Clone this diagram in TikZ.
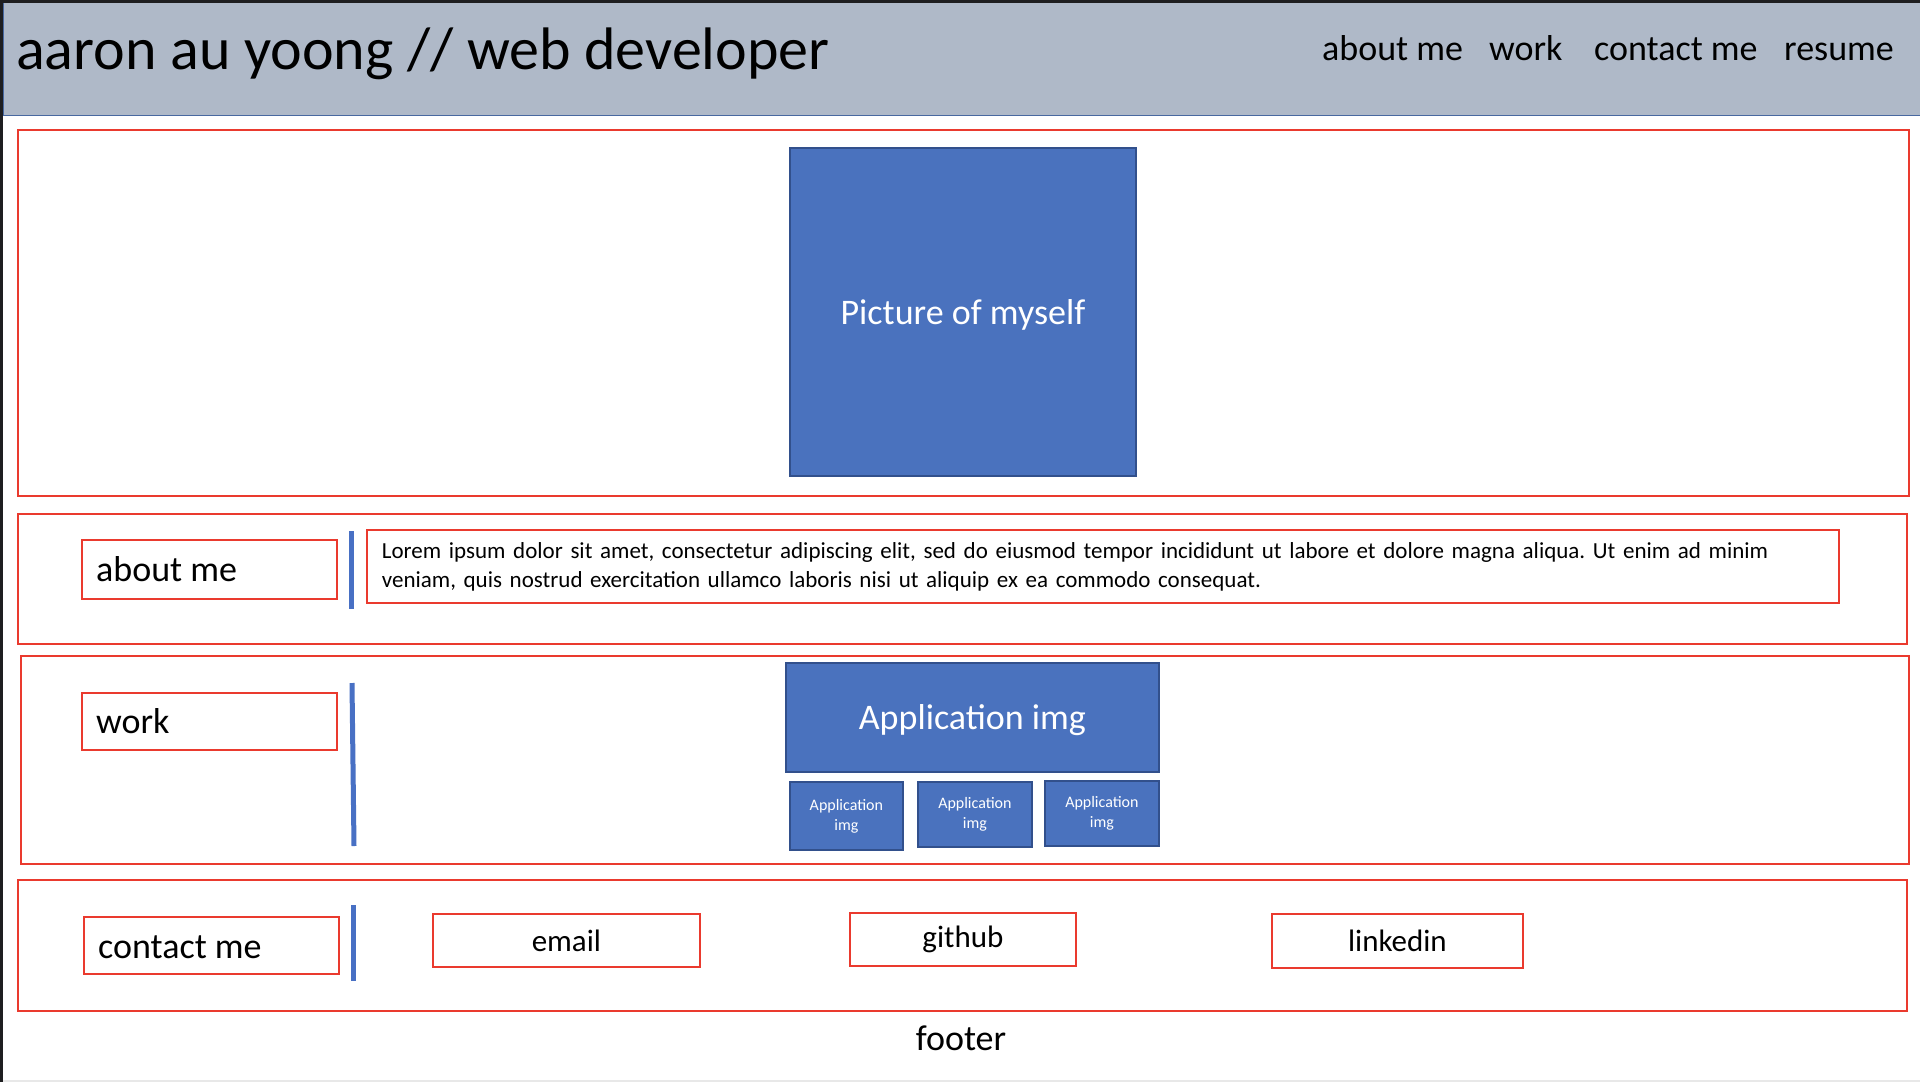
\documentclass[tikz,border=0pt]{standalone}
\usepackage{fontspec}
\setmainfont{Carlito}
\frenchspacing
\definecolor{headfill}{RGB}{175,185,200}
\definecolor{headline}{RGB}{72,104,160}
\definecolor{frame}{RGB}{30,30,32}
\definecolor{redc}{RGB}{234,58,46}
\definecolor{bluec}{RGB}{74,114,190}
\definecolor{bluedark}{RGB}{50,80,140}
\definecolor{barblue}{RGB}{72,112,196}
\definecolor{edgegray}{RGB}{232,232,232}
\newcommand{\fsz}[1]{\fontsize{#1}{1.2\dimexpr #1pt\relax}\selectfont}
\tikzset{
  redbox/.style={draw=redc, line width=1.8pt, inner sep=0pt, anchor=north west},
  section/.style={redbox},
  labelbox/.style={redbox, minimum width=255pt},
  labeltext/.style={anchor=west, inner sep=0pt, font=\fsz{36}},
  linkbox/.style={redbox, align=center, font=\fsz{31}},
  imgbox/.style={draw=bluedark, fill=bluec, line width=1.8pt, inner sep=0pt,
    anchor=north west, text=white, align=center},
  navitem/.style={anchor=base west, inner sep=0pt, font=\fsz{36}},
  divider/.style={draw=barblue, line width=5pt},
}
\begin{document}
\begin{tikzpicture}[x=1pt, y=-1pt]
\useasboundingbox (0,0) rectangle (1920,1082);
\fill[white] (0,0) rectangle (1920,1082);

% page frame
\fill[frame] (0,0) rectangle (1920,3);
\fill[frame] (0,0) rectangle (3,1082);
\fill[edgegray] (3,1080) rectangle (1920,1082);

% header bar
\fill[headfill] (3,3) rectangle (1920,116);
\draw[headline, line width=1.5pt] (3,115.5) -- (1920,115.5);
\draw[headline, line width=1pt] (3.5,3) -- (3.5,116);
\node[anchor=base west, inner sep=0pt, font=\fsz{60}] (title) at (16,69)
  {aaron au yoong // web developer};
\node[navitem] (navabout) at (1322,60) {about me};
\node[navitem] (navwork) at (1489,60) {work};
\node[navitem] (navcontact) at (1594,60) {contact me};
\node[navitem] (navresume) at (1784,60) {resume};

% hero section
\node[section, minimum width=1891pt, minimum height=366pt] (hero) at (17,129) {};
\node[imgbox, minimum width=346pt, minimum height=328pt, font=\fsz{36}] (picture)
  at (789,147) {};
\node[text=white, font=\fsz{36}, inner sep=0pt] (picturetext)
  at ([yshift=-3pt]picture.center) {Picture of myself};

% about section
\node[section, minimum width=1889pt, minimum height=130pt] (about) at (17,513) {};
\node[labelbox, minimum height=59pt] (aboutlabel) at (81,539) {};
\node[labeltext] (abouttext) at ([xshift=15pt]aboutlabel.west) {about me};
\coordinate (abtop) at (351,531);
\coordinate (abbot) at (351,609);
\draw[divider] (abtop) -- (abbot);
\node[redbox, minimum width=1472pt, minimum height=73pt, inner xsep=15pt,
  text width=1442pt, align=left, font=\fontsize{23}{29}\selectfont] (lorem) at (366,529)
  {Lorem ipsum dolor sit amet, consectetur adipiscing elit, sed do eiusmod tempor incididunt ut labore et dolore magna aliqua. Ut enim ad minim\\
   veniam, quis nostrud exercitation ullamco laboris nisi ut aliquip ex ea commodo consequat.};

% work section
\node[section, minimum width=1888pt, minimum height=208pt] (work) at (20,655) {};
\node[labelbox, minimum height=57pt] (worklabel) at (81,692) {};
\node[labeltext] (worktext) at ([xshift=15pt]worklabel.west) {work};
\coordinate (wktop) at (352,683);
\coordinate (wkbot) at (354,846);
\draw[divider] (wktop) -- (wkbot);
\node[imgbox, minimum width=373pt, minimum height=109pt] (appmain) at (785,662) {};
\node[text=white, font=\fsz{36}, inner sep=0pt] (appmaintext)
  at ([yshift=-3pt]appmain.center) {Application img};
\node[imgbox, minimum width=113pt, minimum height=68pt, font=\fontsize{16}{20}\selectfont]
  (appa) at (789,781) {Application\\img};
\node[imgbox, minimum width=114pt, minimum height=65pt, font=\fontsize{16}{20}\selectfont]
  (appb) at (917,781) {Application\\img};
\node[imgbox, minimum width=114pt, minimum height=65pt, font=\fontsize{16}{20}\selectfont]
  (appc) at (1044,780) {Application\\img};

% contact section
\node[section, minimum width=1889pt, minimum height=131pt] (contact) at (17,879) {};
\node[labelbox, minimum height=57pt] (contactlabel) at (83,916) {};
\node[labeltext] (contacttext) at ([xshift=15pt,yshift=-2pt]contactlabel.west) {contact me};
\coordinate (cttop) at (353,905);
\coordinate (ctbot) at (353,981);
\draw[divider] (cttop) -- (ctbot);
\node[linkbox, minimum width=267pt, minimum height=53pt] (email) at (432,913) {email};
\node[linkbox, minimum width=226pt, minimum height=53pt] (github) at (849,912) {github};
\node[linkbox, minimum width=251pt, minimum height=54pt] (linkedin) at (1271,913) {linkedin};

% footer
\node[font=\fsz{36}, inner sep=0pt] (footer) at (961,1038) {footer};
\end{tikzpicture}
\end{document}
